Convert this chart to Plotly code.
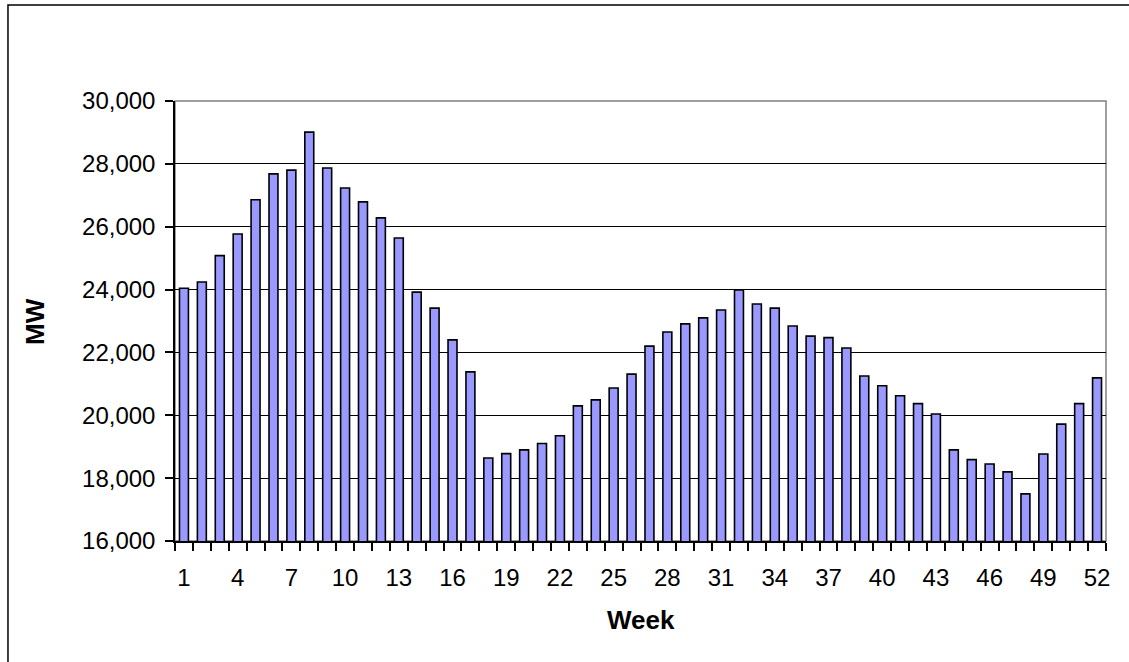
import plotly.graph_objects as go

weeks = list(range(1, 53))
mw = [24040, 24240, 25080, 25770, 26860, 27680, 27800, 29010, 27870, 27230,
      26790, 26280, 25640, 23920, 23410, 22400, 21380, 18640, 18780, 18900,
      19100, 19350, 20300, 20490, 20870, 21310, 22200, 22650, 22910, 23100,
      23350, 23990, 23540, 23410, 22840, 22520, 22470, 22140, 21250, 20940,
      20620, 20370, 20040, 18900, 18590, 18450, 18200, 17500, 18770, 19720,
      20370, 21190]
x_tick_vals = list(range(1, 53, 3))
y_tick_vals = [16000, 18000, 20000, 22000, 24000, 26000, 28000, 30000]

FONT = "Arial, Liberation Sans, sans-serif"

fig = go.Figure()
fig.add_trace(go.Bar(
    x=weeks, y=mw, width=0.5,
    marker=dict(color="#9999FF", line=dict(color="black", width=1.6)),
))

fig.update_layout(
    width=1129, height=662,
    margin=dict(l=175, r=23, t=101, b=121),
    paper_bgcolor="white", plot_bgcolor="white",
    showlegend=False,
    font=dict(family=FONT, size=24, color="black"),
    xaxis=dict(
        range=[0.5, 52.5],
        tickvals=x_tick_vals,
        ticktext=[str(v) for v in x_tick_vals],
        ticks="", showgrid=False, zeroline=False,
        showline=True, linecolor="black", linewidth=1.5,
        ticklabelstandoff=14,
        minor=dict(tick0=0.5, dtick=1, ticks="outside", ticklen=8,
                   tickcolor="black", tickwidth=1.5, showgrid=False),
        tickfont=dict(family=FONT, size=24),
    ),
    yaxis=dict(
        range=[16000, 30000],
        tickvals=y_tick_vals,
        tickformat=",d",
        ticks="outside", ticklen=8, tickcolor="black", tickwidth=1.5,
        showgrid=True, gridcolor="black", gridwidth=1.4,
        zeroline=False,
        showline=True, linecolor="black", linewidth=1.5,
        ticklabelstandoff=5,
        tickfont=dict(family=FONT, size=24),
    ),
    shapes=[
        dict(type="rect", xref="paper", yref="paper", x0=0, x1=1, y0=0, y1=1,
             line=dict(color="#808080", width=1.5), layer="below"),
        dict(type="rect", xref="paper", yref="paper",
             x0=-0.1794, x1=1.2, y0=-0.4, y1=1.2182,
             line=dict(color="black", width=1.5), layer="above"),
    ],
    annotations=[
        dict(text="<b>Week</b>", xref="paper", yref="paper", x=0.5, y=-0.1795,
             showarrow=False, font=dict(family=FONT, size=26), xanchor="center",
             yanchor="middle"),
        dict(text="<b>MW</b>", xref="paper", yref="paper", x=-0.1504, y=0.5,
             showarrow=False, font=dict(family=FONT, size=26), textangle=-90,
             xanchor="center", yanchor="middle"),
    ],
)

fig.write_html("out.html", config={"displayModeBar": False},
               post_script="document.body.style.margin='0';document.body.style.overflow='hidden';")
